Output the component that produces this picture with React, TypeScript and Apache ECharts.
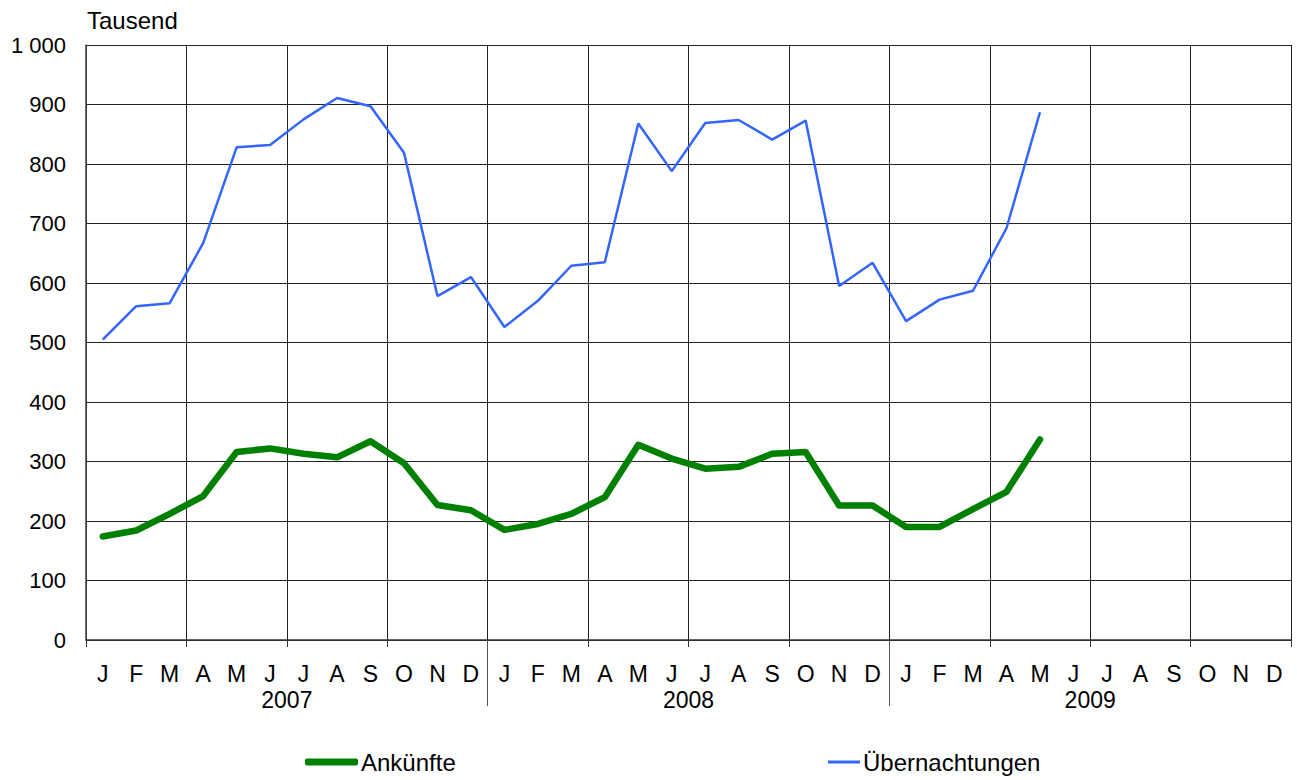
import React, { useEffect, useRef } from "react";
import * as echarts from "echarts";

const months = ["J","F","M","A","M","J","J","A","S","O","N","D"];
const years = ["2007", "2008", "2009"];
const categories: string[] = [];
years.forEach((y) => months.forEach((m, i) => categories.push(y + "-" + (i + 1))));

const ankuenfte: (number | null)[] = [
  174, 184, 212, 242, 316, 322, 313, 307, 334, 297, 227, 218,
  185, 195, 212, 240, 328, 305, 288, 291, 313, 316, 226, 226,
  190, 190, 220, 249, 337, null, null, null, null, null, null, null,
];
const uebernachtungen: (number | null)[] = [
  505, 561, 566, 667, 828, 832, 875, 911, 897, 819, 578, 610,
  526, 570, 629, 635, 868, 788, 869, 874, 841, 873, 595, 634,
  536, 572, 587, 692, 887, null, null, null, null, null, null, null,
];
const yTicks = { min: 0, max: 1000, interval: 100 };
const yearTickValues = [12, 24];
const yearLabelValues = [6, 18, 30];

const FONT = "'Liberation Sans', Arial, sans-serif";

export default function App() {
  const ref = useRef<HTMLDivElement>(null);
  useEffect(() => {
    if (!ref.current) return;
    const chart = echarts.init(ref.current, undefined, { renderer: "svg" });
    chart.setOption({
      animation: false,
      backgroundColor: "#fff",
      textStyle: { fontFamily: FONT, color: "#000" },
      title: {
        text: "Tausend",
        left: 82,
        top: 3,
        textStyle: { fontFamily: FONT, fontSize: 24, fontWeight: "normal", color: "#000" },
      },
      grid: { left: 86, right: 6, top: 45, bottom: 140, containLabel: false },
      legend: [
        {
          data: ["Ankünfte"],
          left: 300,
          top: 745,
          itemWidth: 53,
          itemHeight: 7,
          itemGap: 3,
          icon: "roundRect",
          textStyle: { fontFamily: FONT, fontSize: 24, color: "#000", padding: [0, 0, 0, -2] },
          itemStyle: { color: "#008000" },
        },
        {
          data: ["Übernachtungen"],
          left: 823,
          top: 745,
          itemWidth: 32,
          itemHeight: 3,
          itemGap: 3,
          icon: "rect",
          textStyle: { fontFamily: FONT, fontSize: 24, color: "#000", padding: [0, 0, 0, -2] },
          itemStyle: { color: "#3366ff" },
        },
      ],
      xAxis: [
        {
          type: "category",
          data: categories,
          boundaryGap: true,
          axisLine: { show: true, lineStyle: { color: "#333", width: 1.5 } },
          axisTick: {
            show: true,
            length: 7,
            interval: (i: number) => i % 3 === 0,
            lineStyle: { color: "#333" },
          },
          axisLabel: {
            interval: 0,
            margin: 22,
            fontSize: 23,
            fontFamily: FONT,
            color: "#000",
            formatter: (v: string) => months[parseInt(v.split("-")[1], 10) - 1],
          },
          splitLine: {
            show: true,
            interval: (i: number) => i % 3 === 0,
            lineStyle: { color: "#222", width: 1 },
          },
        },
        {
          type: "value",
          min: 0,
          max: 36,
          position: "bottom",
          axisLine: { show: false },
          splitLine: { show: false },
          axisTick: {
            show: true,
            customValues: yearTickValues,
            length: 66,
            inside: false,
            lineStyle: { color: "#555", width: 1 },
          },
          axisLabel: {
            show: true,
            customValues: yearLabelValues,
            margin: 48,
            fontSize: 23,
            fontFamily: FONT,
            color: "#000",
            formatter: (v: number) => years[Math.round((v - 6) / 12)] ?? "",
          },
        },
      ],
      yAxis: [
        {
          type: "value",
          min: yTicks.min,
          max: yTicks.max,
          interval: yTicks.interval,
          axisLine: { show: true, lineStyle: { color: "#444", width: 1.5 } },
          axisTick: { show: false },
          axisLabel: {
            margin: 20,
            fontSize: 22,
            fontFamily: FONT,
            color: "#000",
            formatter: (v: number) => (v >= 1000 ? "1 000" : String(v)),
          },
          splitLine: { show: true, lineStyle: { color: "#222", width: 1 } },
        },
      ],
      series: [
        {
          name: "Ankünfte",
          type: "line",
          data: ankuenfte,
          symbol: "none",
          color: "#008000",
          lineStyle: { color: "#008000", width: 6.5, cap: "round", join: "round" },
          z: 3,
        },
        {
          name: "Übernachtungen",
          type: "line",
          data: uebernachtungen,
          symbol: "none",
          color: "#3366ff",
          lineStyle: { color: "#3366ff", width: 2.5 },
          z: 3,
        },
      ],
    });
    return () => chart.dispose();
  }, []);
  return <div ref={ref} style={{ width: 1297, height: 780, position: "absolute", left: 0, top: 0 }} />;
}
